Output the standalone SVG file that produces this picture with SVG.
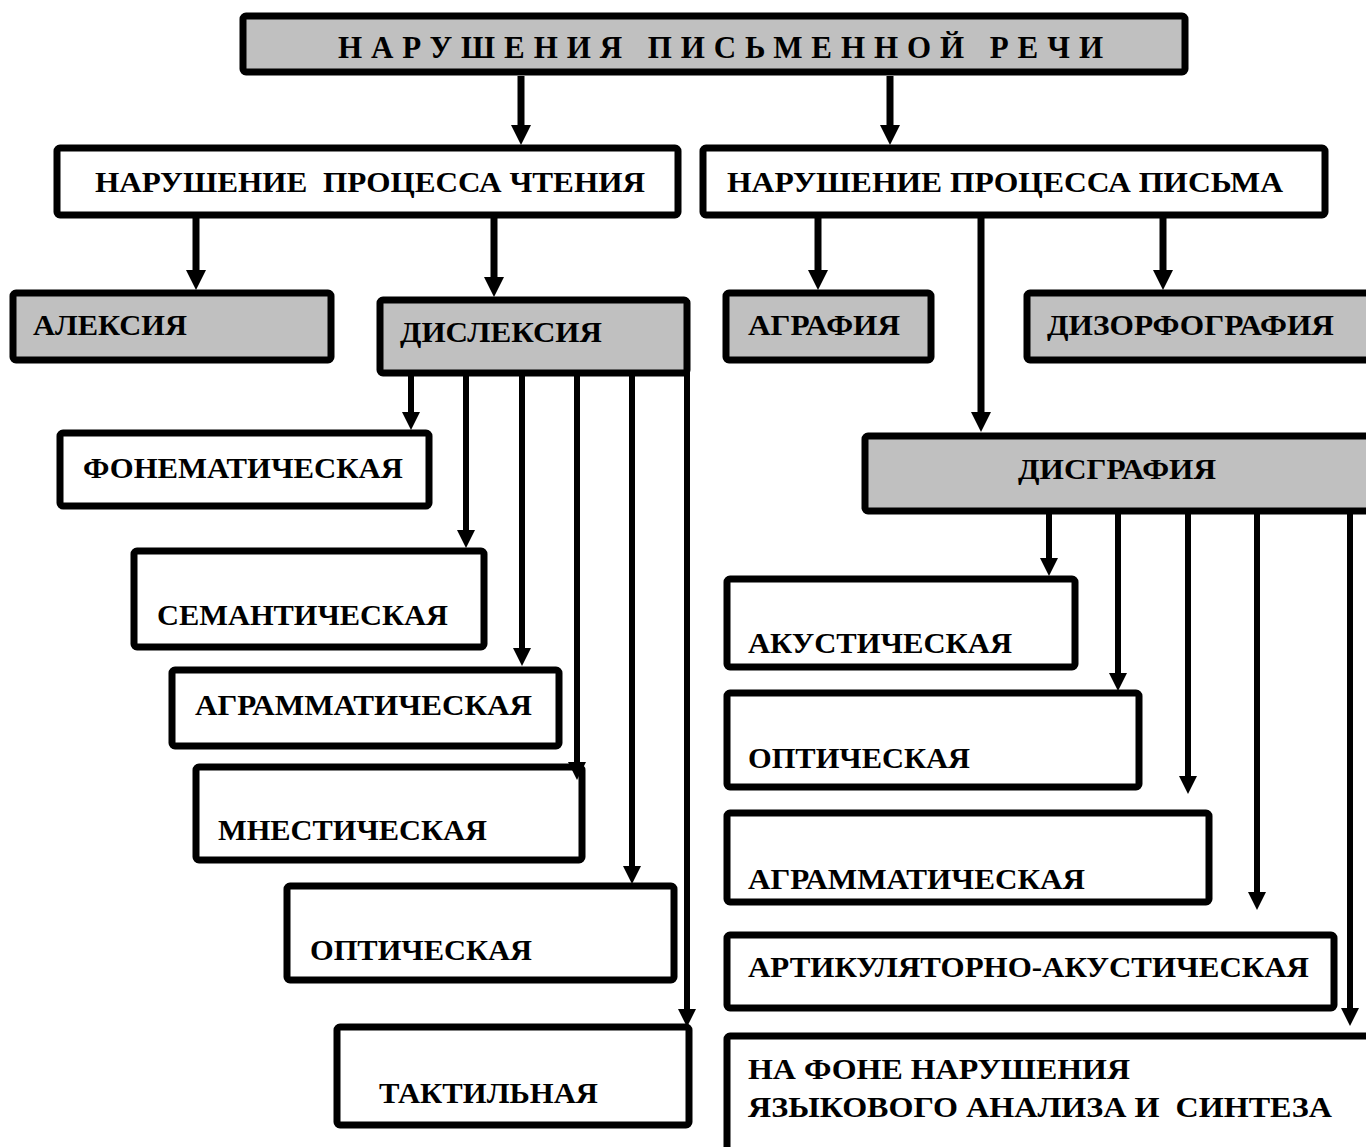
<svg xmlns="http://www.w3.org/2000/svg" width="1366" height="1147" viewBox="0 0 1366 1147">
<defs>
<style>
.box{fill:#ffffff;stroke:#000;stroke-width:7;}
.gray{fill:#c0c0c0;}
.t{font-family:"Liberation Serif","Times New Roman",serif;font-weight:bold;font-size:30px;fill:#000;}
.title{font-family:"Liberation Serif","Times New Roman",serif;font-weight:bold;font-size:31px;fill:#000;}
.c1{stroke:#000;stroke-width:7;fill:none;marker-end:url(#ah1);}
.c2{stroke:#000;stroke-width:6;fill:none;marker-end:url(#ah2);}
</style>
<marker id="ah1" markerUnits="userSpaceOnUse" markerWidth="20" markerHeight="20" refX="2" refY="10" orient="auto"><path d="M0,0 L20,10 L0,20 z" fill="#000"/></marker>
<marker id="ah2" markerUnits="userSpaceOnUse" markerWidth="18" markerHeight="18" refX="2" refY="9" orient="auto"><path d="M0,0 L18,9 L0,18 z" fill="#000"/></marker>
</defs>
<rect width="1366" height="1147" fill="#ffffff"/>
<g id="n-title"><rect class="box gray" x="243" y="16" width="942" height="56" rx="3"/><text class="title" x="338" y="58" textLength="765" lengthAdjust="spacing">НАРУШЕНИЯ ПИСЬМЕННОЙ РЕЧИ</text></g>
<g id="n-reading"><rect class="box" x="57" y="148" width="621" height="67" rx="3"/><text class="t" x="95" y="192" textLength="550" lengthAdjust="spacingAndGlyphs" xml:space="preserve">НАРУШЕНИЕ  ПРОЦЕССА ЧТЕНИЯ</text></g>
<g id="n-writing"><rect class="box" x="703" y="148" width="622" height="67" rx="3"/><text class="t" x="727" y="192" textLength="556" lengthAdjust="spacingAndGlyphs">НАРУШЕНИЕ ПРОЦЕССА ПИСЬМА</text></g>
<g id="n-alexia"><rect class="box gray" x="13" y="293" width="318" height="67" rx="3"/><text class="t" x="33" y="335" textLength="154" lengthAdjust="spacingAndGlyphs">АЛЕКСИЯ</text></g>
<g id="n-dyslexia"><rect class="box gray" x="380" y="300" width="307" height="73" rx="3"/><text class="t" x="400" y="342" textLength="202" lengthAdjust="spacingAndGlyphs">ДИСЛЕКСИЯ</text></g>
<g id="n-agraphia"><rect class="box gray" x="726" y="293" width="205" height="67" rx="3"/><text class="t" x="748" y="335" textLength="152" lengthAdjust="spacingAndGlyphs">АГРАФИЯ</text></g>
<g id="n-dysortho"><rect class="box gray" x="1027" y="293" width="345" height="67" rx="3"/><text class="t" x="1047" y="335" textLength="287" lengthAdjust="spacingAndGlyphs">ДИЗОРФОГРАФИЯ</text></g>
<g id="n-dysgraphia"><rect class="box gray" x="865" y="436" width="510" height="75" rx="3"/><text class="t" x="1018" y="479" textLength="198" lengthAdjust="spacingAndGlyphs">ДИСГРАФИЯ</text></g>
<g id="n-phonem"><rect class="box" x="60" y="433" width="369" height="73" rx="3"/><text class="t" x="83" y="478" textLength="320" lengthAdjust="spacingAndGlyphs">ФОНЕМАТИЧЕСКАЯ</text></g>
<g id="n-semant"><rect class="box" x="134" y="551" width="350" height="96" rx="3"/><text class="t" x="157" y="625" textLength="291" lengthAdjust="spacingAndGlyphs">СЕМАНТИЧЕСКАЯ</text></g>
<g id="n-agramL"><rect class="box" x="172" y="670" width="387" height="76" rx="3"/><text class="t" x="195" y="715" textLength="337" lengthAdjust="spacingAndGlyphs">АГРАММАТИЧЕСКАЯ</text></g>
<g id="n-mnest"><rect class="box" x="196" y="767" width="386" height="93" rx="3"/><text class="t" x="218" y="840" textLength="269" lengthAdjust="spacingAndGlyphs">МНЕСТИЧЕСКАЯ</text></g>
<g id="n-opticL"><rect class="box" x="287" y="886" width="387" height="94" rx="3"/><text class="t" x="310" y="960" textLength="222" lengthAdjust="spacingAndGlyphs">ОПТИЧЕСКАЯ</text></g>
<g id="n-tactile"><rect class="box" x="337" y="1027" width="352" height="98" rx="3"/><text class="t" x="379" y="1103" textLength="219" lengthAdjust="spacingAndGlyphs">ТАКТИЛЬНАЯ</text></g>
<g id="n-acoust"><rect class="box" x="727" y="579" width="348" height="88" rx="3"/><text class="t" x="748" y="653" textLength="264" lengthAdjust="spacingAndGlyphs">АКУСТИЧЕСКАЯ</text></g>
<g id="n-opticR"><rect class="box" x="727" y="693" width="412" height="94" rx="3"/><text class="t" x="748" y="768" textLength="222" lengthAdjust="spacingAndGlyphs">ОПТИЧЕСКАЯ</text></g>
<g id="n-agramR"><rect class="box" x="727" y="813" width="482" height="89" rx="3"/><text class="t" x="748" y="889" textLength="337" lengthAdjust="spacingAndGlyphs">АГРАММАТИЧЕСКАЯ</text></g>
<g id="n-artic"><rect class="box" x="727" y="935" width="607" height="73" rx="3"/><text class="t" x="748" y="977" textLength="561" lengthAdjust="spacingAndGlyphs">АРТИКУЛЯТОРНО-АКУСТИЧЕСКАЯ</text></g>
<g id="n-fone"><rect class="box" x="727" y="1036" width="650" height="120" rx="3"/><text class="t" x="748" y="1079" textLength="382" lengthAdjust="spacingAndGlyphs">НА ФОНЕ НАРУШЕНИЯ</text><text class="t" x="748" y="1117" textLength="584" lengthAdjust="spacingAndGlyphs" xml:space="preserve">ЯЗЫКОВОГО АНАЛИЗА И  СИНТЕЗА</text></g>
<g id="connectors">
<line class="c1" x1="521" y1="76" x2="521" y2="127"/>
<line class="c1" x1="890" y1="76" x2="890" y2="127"/>
<line class="c1" x1="196" y1="218" x2="196" y2="272"/>
<line class="c1" x1="494" y1="218" x2="494" y2="279"/>
<line class="c1" x1="818" y1="218" x2="818" y2="272"/>
<line class="c1" x1="1163" y1="218" x2="1163" y2="272"/>
<line class="c1" x1="981" y1="218" x2="981" y2="414"/>
<line class="c2" x1="411" y1="376" x2="411" y2="414"/>
<line class="c2" x1="466" y1="376" x2="466" y2="532"/>
<line class="c2" x1="522" y1="376" x2="522" y2="650"/>
<line class="c2" x1="577" y1="376" x2="577" y2="764"/>
<line class="c2" x1="632" y1="376" x2="632" y2="868"/>
<line class="c2" x1="687" y1="300" x2="687" y2="1011"/>
<line class="c2" x1="1049" y1="513" x2="1049" y2="560"/>
<line class="c2" x1="1118" y1="513" x2="1118" y2="675"/>
<line class="c2" x1="1188" y1="513" x2="1188" y2="778"/>
<line class="c2" x1="1257" y1="513" x2="1257" y2="894"/>
<line class="c2" x1="1350" y1="513" x2="1350" y2="1010"/>
</g>
</svg>
